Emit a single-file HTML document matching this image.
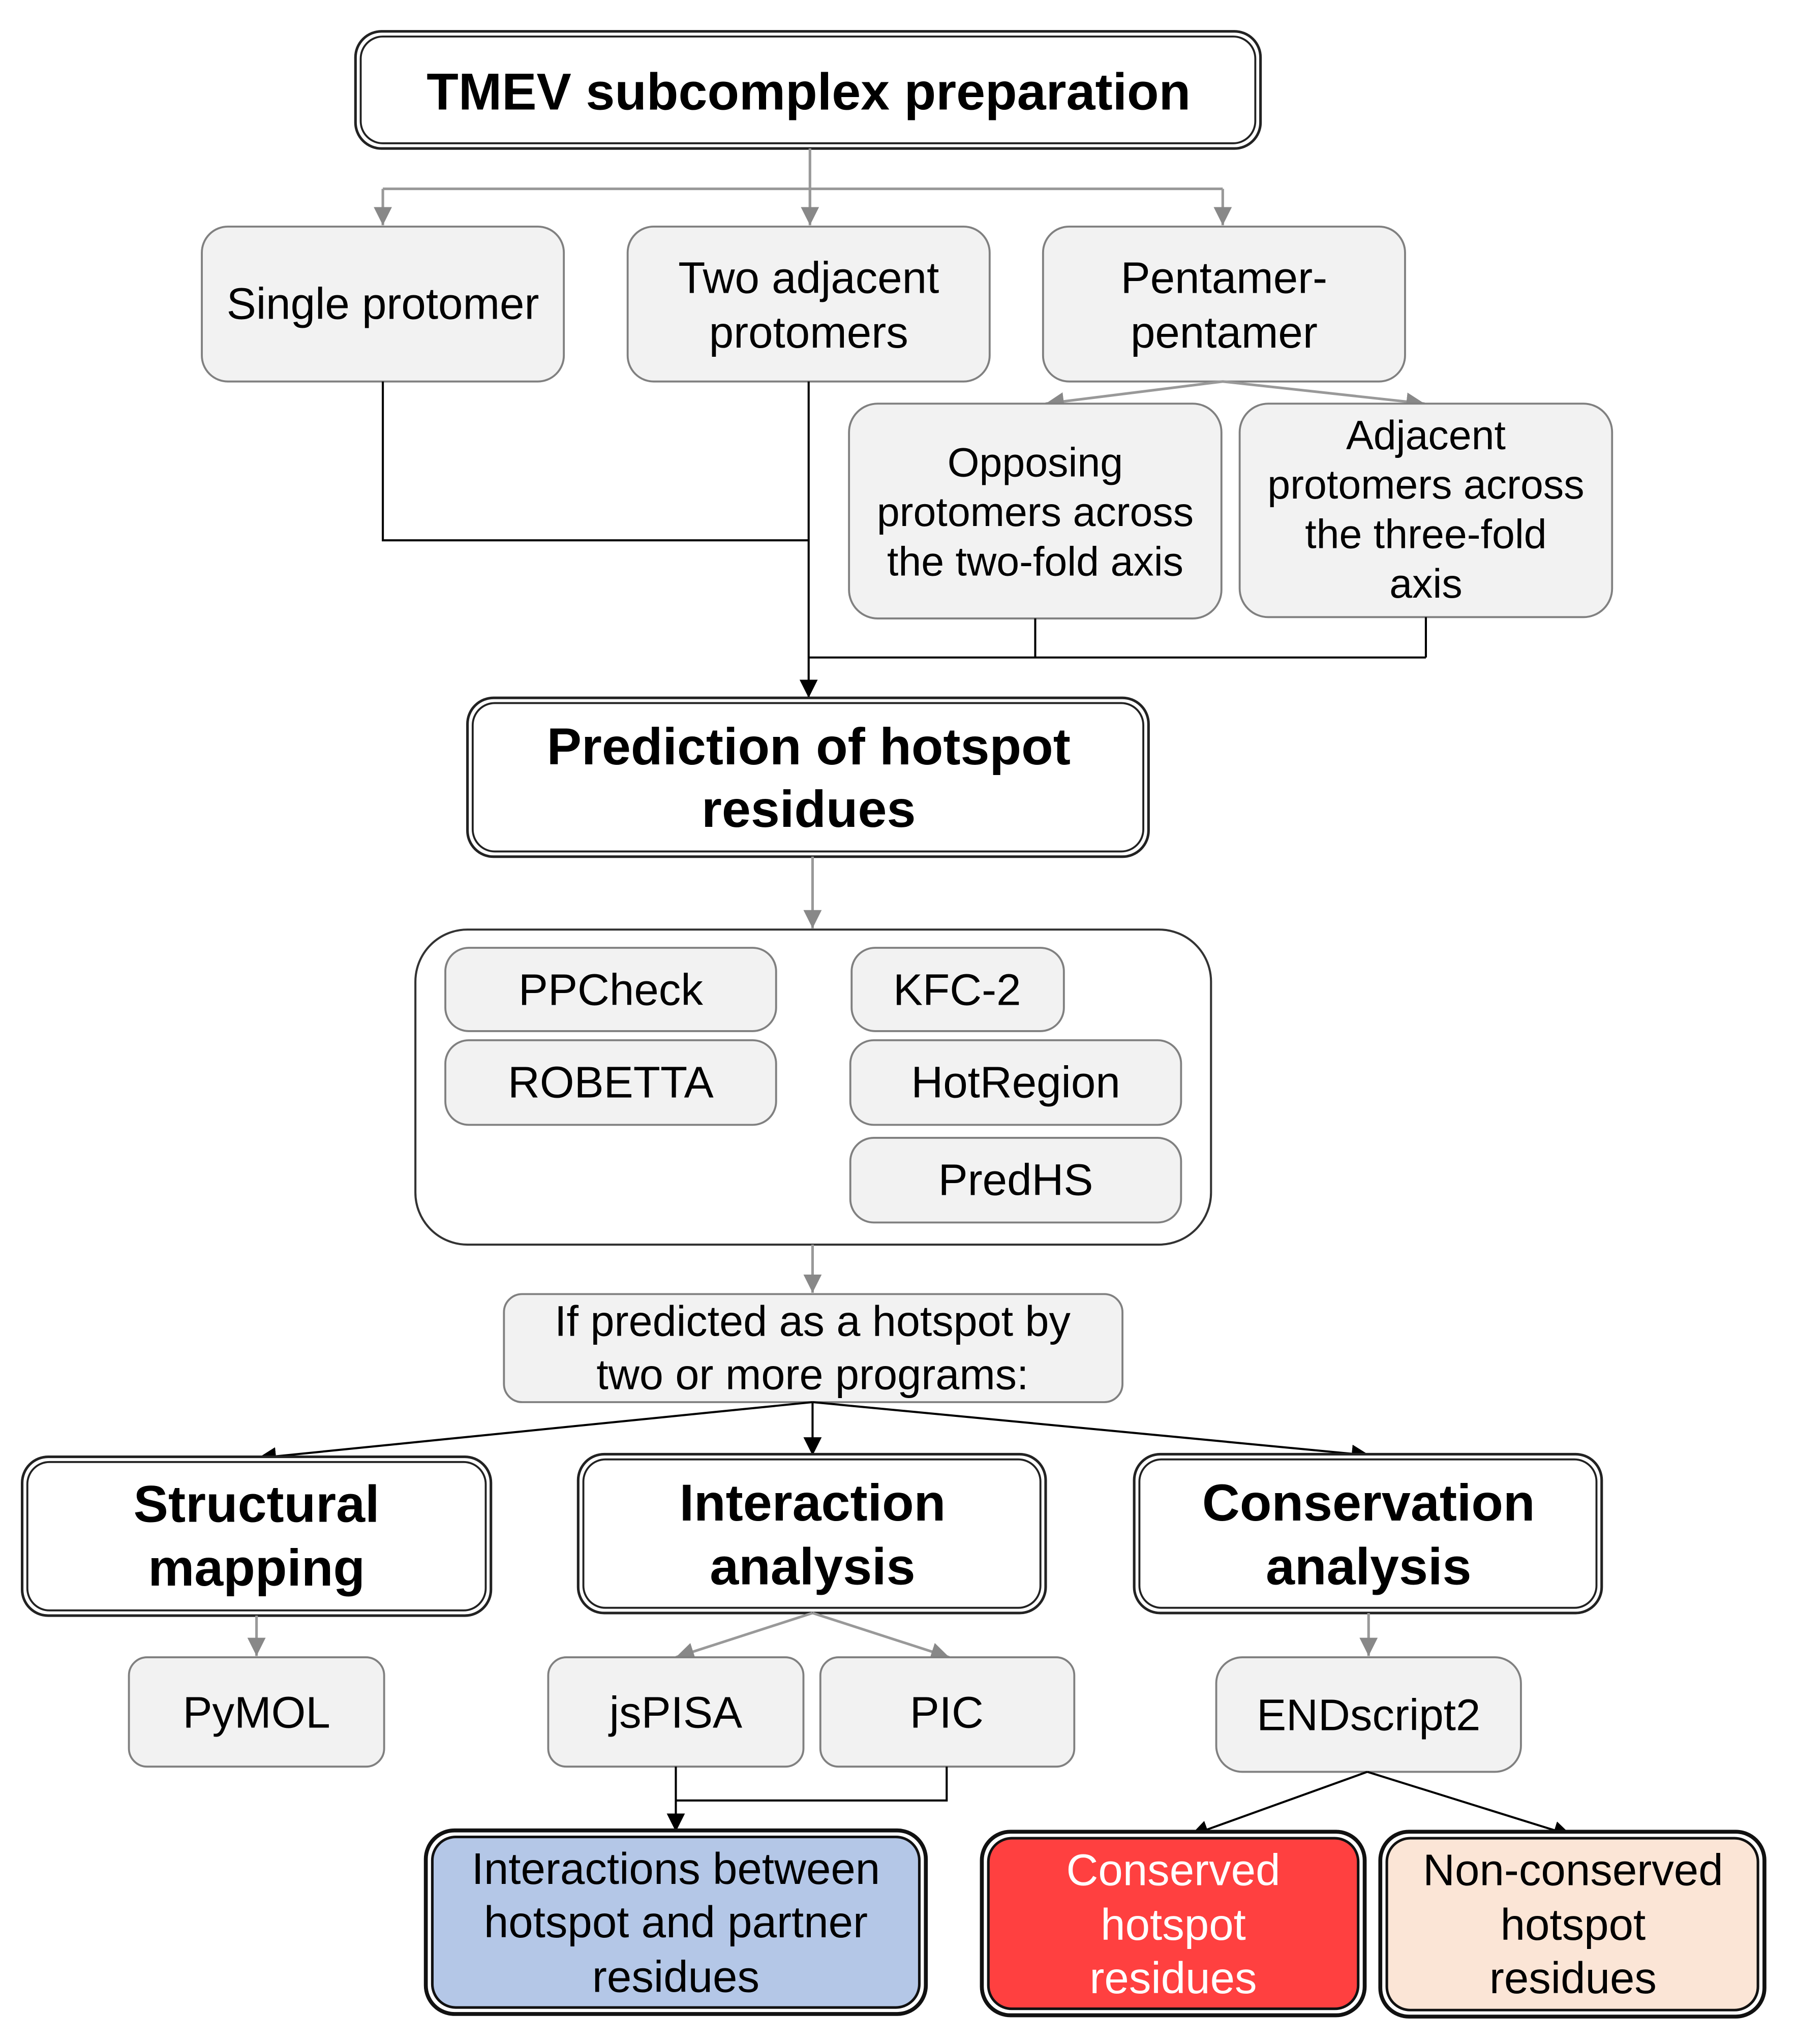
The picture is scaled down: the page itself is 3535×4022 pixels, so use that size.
<!DOCTYPE html>
<html><head><meta charset="utf-8"><style>
html,body{margin:0;padding:0;background:#fff}
svg{display:block}
text{font-family:"Liberation Sans",Arial,sans-serif;text-anchor:middle}
.b{font-weight:bold;font-size:40px;fill:#000}
.r{font-size:34px;fill:#000}
.s{font-size:31.5px}
.g{fill:#f2f2f2;stroke:#808080;stroke-width:1.5}
.gl{stroke:#999;stroke-width:2;fill:none}
.bl{stroke:#000;stroke-width:1.6;fill:none}
</style></head><body>
<svg width="3535" height="4022" viewBox="0 0 1380 1570" xmlns="http://www.w3.org/2000/svg">
<defs>
<marker id="ag" markerWidth="16" markerHeight="16" refX="14" refY="7" orient="auto" markerUnits="userSpaceOnUse"><path d="M0,0 L14,7 L0,14 z" fill="#888"/></marker>
<marker id="ab" markerWidth="16" markerHeight="16" refX="14" refY="7" orient="auto" markerUnits="userSpaceOnUse"><path d="M0,0 L14,7 L0,14 z" fill="#000"/></marker>
</defs>
<rect x="273" y="24" width="695" height="90" rx="20" fill="#fff" stroke="#222" stroke-width="2"/>
<rect x="277" y="28" width="687" height="82" rx="17" fill="none" stroke="#222" stroke-width="1.5"/>
<text class="b" x="621" y="84">TMEV subcomplex preparation</text>
<path class="gl" d="M622,114 V170"/>
<path class="gl" d="M294,145 H939"/>
<path class="gl" d="M294,145 V173" marker-end="url(#ag)"/>
<path class="gl" d="M622,145 V173" marker-end="url(#ag)"/>
<path class="gl" d="M939,145 V173" marker-end="url(#ag)"/>
<rect class="g" x="155" y="174" width="278" height="119" rx="20"/>
<text class="r" x="294" y="245">Single protomer</text>
<rect class="g" x="482" y="174" width="278" height="119" rx="20"/>
<text class="r" x="621" y="225">Two adjacent</text><text class="r" x="621" y="267">protomers</text>
<rect class="g" x="801" y="174" width="278" height="119" rx="20"/>
<text class="r" x="940" y="225">Pentamer-</text><text class="r" x="940" y="267">pentamer</text>
<path class="gl" d="M939,293 L803,310" marker-end="url(#ag)"/>
<path class="gl" d="M939,293 L1094,310" marker-end="url(#ag)"/>
<rect class="g" x="652" y="310" width="286" height="165" rx="22"/>
<text class="r s" x="795" y="366">Opposing</text>
<text class="r s" x="795" y="404">protomers across</text>
<text class="r s" x="795" y="442">the two-fold axis</text>
<rect class="g" x="952" y="310" width="286" height="164" rx="22"/>
<text class="r s" x="1095" y="345">Adjacent</text>
<text class="r s" x="1095" y="383">protomers across</text>
<text class="r s" x="1095" y="421">the three-fold</text>
<text class="r s" x="1095" y="459">axis</text>
<path class="bl" d="M294,293 V415 H621"/>
<path class="bl" d="M621,293 V536" marker-end="url(#ab)"/>
<path class="bl" d="M795,475 V505 M1095,474 V505 M621,505 H1095"/>
<rect x="359" y="536" width="523" height="122" rx="20" fill="#fff" stroke="#222" stroke-width="2"/>
<rect x="363" y="540" width="515" height="114" rx="17" fill="none" stroke="#222" stroke-width="1.5"/>
<text class="b" x="621" y="587">Prediction of hotspot</text>
<text class="b" x="621" y="635">residues</text>
<path class="gl" d="M624,658 V713" marker-end="url(#ag)"/>
<rect x="319" y="714" width="611" height="242" rx="40" fill="#fff" stroke="#333" stroke-width="1.6"/>
<rect class="g" x="342" y="728" width="254" height="64" rx="18"/><text class="r" x="469" y="772">PPCheck</text>
<rect class="g" x="654" y="728" width="163" height="64" rx="18"/><text class="r" x="735" y="772">KFC-2</text>
<rect class="g" x="342" y="799" width="254" height="65" rx="18"/><text class="r" x="469" y="843">ROBETTA</text>
<rect class="g" x="653" y="799" width="254" height="65" rx="18"/><text class="r" x="780" y="843">HotRegion</text>
<rect class="g" x="653" y="874" width="254" height="65" rx="18"/><text class="r" x="780" y="918">PredHS</text>
<path class="gl" d="M624,956 V993" marker-end="url(#ag)"/>
<rect class="g" x="387" y="994" width="475" height="83" rx="14"/>
<text class="r" x="624" y="1026" style="font-size:33px">If predicted as a hotspot by</text>
<text class="r" x="624" y="1067" style="font-size:33px">two or more programs:</text>
<path class="bl" d="M624,1077 L198,1120" marker-end="url(#ab)"/>
<path class="bl" d="M624,1077 V1118" marker-end="url(#ab)"/>
<path class="bl" d="M624,1077 L1052,1118" marker-end="url(#ab)"/>
<rect x="17" y="1119" width="360" height="122" rx="20" fill="#fff" stroke="#222" stroke-width="2"/>
<rect x="21" y="1123" width="352" height="114" rx="17" fill="none" stroke="#222" stroke-width="1.5"/>
<text class="b" x="197" y="1169">Structural</text><text class="b" x="197" y="1218">mapping</text>
<rect x="444" y="1117" width="359" height="122" rx="20" fill="#fff" stroke="#222" stroke-width="2"/>
<rect x="448" y="1121" width="351" height="114" rx="17" fill="none" stroke="#222" stroke-width="1.5"/>
<text class="b" x="624" y="1168">Interaction</text><text class="b" x="624" y="1217">analysis</text>
<rect x="871" y="1117" width="359" height="122" rx="20" fill="#fff" stroke="#222" stroke-width="2"/>
<rect x="875" y="1121" width="351" height="114" rx="17" fill="none" stroke="#222" stroke-width="1.5"/>
<text class="b" x="1051" y="1168">Conservation</text><text class="b" x="1051" y="1217">analysis</text>
<path class="gl" d="M197,1241 V1272" marker-end="url(#ag)"/>
<path class="gl" d="M624,1239 L519,1273" marker-end="url(#ag)"/>
<path class="gl" d="M624,1239 L729,1273" marker-end="url(#ag)"/>
<path class="gl" d="M1051,1239 V1272" marker-end="url(#ag)"/>
<rect class="g" x="99" y="1273" width="196" height="84" rx="14"/><text class="r" x="197" y="1327">PyMOL</text>
<rect class="g" x="421" y="1273" width="196" height="84" rx="14"/><text class="r" x="519" y="1327">jsPISA</text>
<rect class="g" x="630" y="1273" width="195" height="84" rx="14"/><text class="r" x="727" y="1327">PIC</text>
<rect class="g" x="934" y="1273" width="234" height="88" rx="20"/><text class="r" x="1051" y="1329">ENDscript2</text>
<path class="bl" d="M519,1357 V1407" marker-end="url(#ab)"/>
<path class="bl" d="M727,1357 V1383 H519"/>
<path class="bl" d="M1050,1361 L914,1410" marker-end="url(#ab)"/>
<path class="bl" d="M1050,1361 L1207,1410" marker-end="url(#ab)"/>
<rect x="327" y="1406" width="384" height="141" rx="22" fill="#fff" stroke="#111" stroke-width="3"/>
<rect x="332" y="1411" width="374" height="131" rx="18" fill="#b4c7e7" stroke="#111" stroke-width="2"/>
<text class="r" x="519" y="1447">Interactions between</text>
<text class="r" x="519" y="1488">hotspot and partner</text>
<text class="r" x="519" y="1530">residues</text>
<rect x="754" y="1407" width="294" height="141" rx="22" fill="#fff" stroke="#111" stroke-width="3"/>
<rect x="759" y="1412" width="284" height="131" rx="18" fill="#ff4040" stroke="#111" stroke-width="2"/>
<text class="r" x="901" y="1448" style="fill:#fff">Conserved</text>
<text class="r" x="901" y="1490" style="fill:#fff">hotspot</text>
<text class="r" x="901" y="1531" style="fill:#fff">residues</text>
<rect x="1060" y="1407" width="295" height="142" rx="22" fill="#fff" stroke="#111" stroke-width="3"/>
<rect x="1065" y="1412" width="285" height="132" rx="18" fill="#fbe5d6" stroke="#111" stroke-width="2"/>
<text class="r" x="1208" y="1448">Non-conserved</text>
<text class="r" x="1208" y="1490">hotspot</text>
<text class="r" x="1208" y="1531">residues</text>
</svg>
</body></html>
